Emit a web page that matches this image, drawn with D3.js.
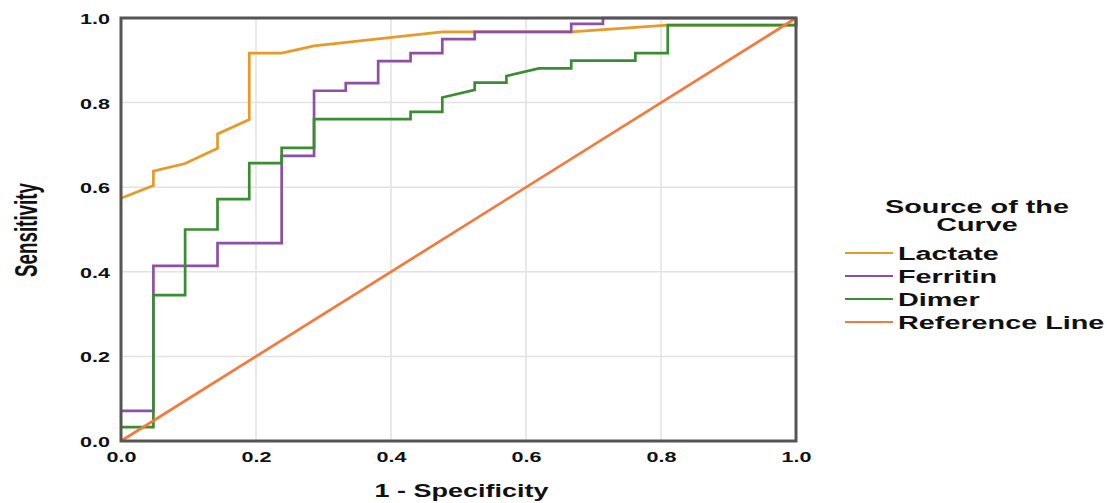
<!DOCTYPE html>
<html>
<head>
<meta charset="utf-8">
<script src="https://cdn.jsdelivr.net/npm/d3@7"></script>
<style>
  body { margin: 0; background: #fff; }
  text { font-family: "Liberation Sans", Arial, sans-serif; font-weight: bold; fill: #111; }
</style>
</head>
<body>
<div id="chart"></div>
<script>
// chart data
const seriesNames = ["Lactate", "Ferritin", "Dimer", "Reference Line"];
const tickValues = [0, 0.2, 0.4, 0.6, 0.8, 1.0];

// [1 - specificity, sensitivity]
const lactate = [[0, 0.574], [0.048, 0.604], [0.048, 0.638], [0.095, 0.656], [0.143, 0.692],
  [0.143, 0.726], [0.190, 0.760], [0.190, 0.917], [0.238, 0.917], [0.286, 0.934],
  [0.476, 0.967], [0.667, 0.967], [0.810, 0.983], [1, 0.983], [1, 1]];
const ferritin = [[0, 0.071], [0.048, 0.071], [0.048, 0.414], [0.143, 0.414], [0.143, 0.468],
  [0.238, 0.468], [0.238, 0.674], [0.286, 0.674], [0.286, 0.828], [0.333, 0.828], [0.333, 0.846],
  [0.381, 0.846], [0.381, 0.898], [0.429, 0.898], [0.429, 0.917], [0.476, 0.917], [0.476, 0.950],
  [0.524, 0.950], [0.524, 0.967], [0.667, 0.967], [0.667, 0.986], [0.714, 0.986], [0.714, 1], [1, 1]];
const dimer = [[0, 0.033], [0.048, 0.033], [0.048, 0.345], [0.095, 0.345], [0.095, 0.500],
  [0.143, 0.500], [0.143, 0.572], [0.190, 0.572], [0.190, 0.657], [0.238, 0.657], [0.238, 0.693],
  [0.286, 0.693], [0.286, 0.761], [0.429, 0.761], [0.429, 0.778], [0.476, 0.778], [0.476, 0.812],
  [0.524, 0.830], [0.524, 0.847], [0.571, 0.847], [0.571, 0.863], [0.619, 0.881], [0.667, 0.881],
  [0.667, 0.899], [0.762, 0.899], [0.762, 0.917], [0.810, 0.917], [0.810, 0.983], [1, 0.983], [1, 1]];
const referenceLine = [[0, 0], [1, 1]];

const colors = ["#e99a26", "#8e4fa8", "#3a8e32", "#f47a3c"];

const width = 1107, height = 503;
const margin = {top: 18, right: 311, bottom: 62, left: 121};

const svg = d3.select("#chart")
  .append("svg")
  .attr("width", width)
  .attr("height", height);

const x = d3.scaleLinear().domain([0, 1]).range([margin.left, width - margin.right]);
const y = d3.scaleLinear().domain([0, 1]).range([height - margin.bottom, margin.top]);

// grid
svg.append("g")
  .selectAll("line.v")
  .data(tickValues.slice(1, -1))
  .join("line")
    .attr("x1", d => x(d)).attr("x2", d => x(d))
    .attr("y1", y(0)).attr("y2", y(1))
    .attr("stroke", "#e2e2e2").attr("stroke-width", 1.5);
svg.append("g")
  .selectAll("line.h")
  .data(tickValues.slice(1, -1))
  .join("line")
    .attr("y1", d => y(d)).attr("y2", d => y(d))
    .attr("x1", x(0)).attr("x2", x(1))
    .attr("stroke", "#e2e2e2").attr("stroke-width", 1.5);

// curves
const line = d3.line().x(d => x(d[0])).y(d => y(d[1]));
[lactate, ferritin, dimer, referenceLine].forEach((s, i) => {
  svg.append("path")
    .datum(s)
    .attr("fill", "none")
    .attr("stroke", colors[i])
    .attr("stroke-width", 2.7)
    .attr("d", line);
});

// frame
svg.append("rect")
  .attr("x", x(0)).attr("y", y(1))
  .attr("width", x(1) - x(0)).attr("height", y(0) - y(1))
  .attr("fill", "none").attr("stroke", "#555").attr("stroke-width", 3);

// axes (labels are stretched wide like the original)
const sx = 1.44;
const fmt = d3.format(".1f");
const yAxis = svg.append("g")
  .attr("transform", `translate(${x(0)},0)`)
  .call(d3.axisLeft(y).tickValues(tickValues).tickFormat(fmt).tickSize(0));
yAxis.select(".domain").remove();
yAxis.selectAll("text")
  .attr("x", -11 / sx).attr("dy", "0.36em")
  .attr("transform", `scale(${sx},1)`)
  .style("font-size", "15px").style("font-family", "Liberation Sans, Arial, sans-serif")
  .style("font-weight", "bold").attr("fill", "#111");

const xAxis = svg.append("g")
  .attr("transform", `translate(0,${y(0)})`)
  .call(d3.axisBottom(x).tickValues(tickValues).tickFormat(fmt).tickSize(0));
xAxis.select(".domain").remove();
xAxis.selectAll("text")
  .attr("y", 21).attr("dy", 0)
  .attr("transform", `scale(${sx},1)`)
  .style("font-size", "15px").style("font-family", "Liberation Sans, Arial, sans-serif")
  .style("font-weight", "bold").attr("fill", "#111");

// axis titles
svg.append("text")
  .attr("transform", `translate(${(x(0) + x(1)) / 2 + 3},497) scale(1.5,1)`)
  .attr("text-anchor", "middle")
  .style("font-size", "18px")
  .text("1 - Specificity");

svg.append("text")
  .attr("transform", `translate(37,230) rotate(-90) scale(1,1.4)`)
  .attr("text-anchor", "middle")
  .attr("textLength", 94).attr("lengthAdjust", "spacingAndGlyphs")
  .style("font-family", "'Liberation Sans Narrow', 'Arial Narrow', sans-serif")
  .style("font-size", "23px")
  .text("Sensitivity");

// legend
const legend = svg.append("g");
const ls = 1.6;
["Source of the", "Curve"].forEach((t, i) => {
  legend.append("text")
    .attr("transform", `translate(977,${213 + i * 18}) scale(${ls},1)`)
    .attr("text-anchor", "middle")
    .style("font-size", "18px")
    .text(t);
});
seriesNames.forEach((name, i) => {
  const ly = 253 + i * 23;
  legend.append("line")
    .attr("x1", 845).attr("x2", 893)
    .attr("y1", ly).attr("y2", ly)
    .attr("stroke", colors[i]).attr("stroke-width", 2);
  legend.append("text")
    .attr("transform", `translate(898,${ly + 6.5}) scale(${ls},1)`)
    .style("font-size", "18px")
    .text(name);
});
</script>
</body>
</html>
